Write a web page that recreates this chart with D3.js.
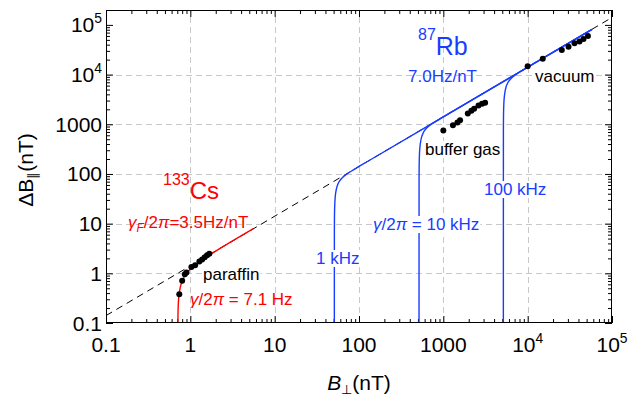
<!DOCTYPE html>
<html><head><meta charset="utf-8">
<script src="https://cdn.jsdelivr.net/npm/d3@7"></script>
<style>body{margin:0;background:#fff}svg{display:block}text{font-family:"Liberation Sans",Arial,sans-serif}</style>
</head><body><svg id="c" width="631" height="396"></svg>
<script>
// ---------- data ----------
const xTickValues = [0.1, 1, 10, 100, 1000, 1e4, 1e5];
const xTickLabels = ["0.1", "1", "10", "100", "1000", "10^4", "10^5"];
const yTickValues = [0.1, 1, 10, 100, 1000, 1e4, 1e5];
const yTickLabels = ["0.1", "1", "10", "100", "1000", "10^4", "10^5"];
const gridValues = [1, 10, 100, 1000, 1e4];

const refLine = [[0.1, 0.141], [1e5, 1.41e5]];
const csCurve = [[0.7118,0.1],[0.717,0.200],[0.731,0.344],[0.753,0.484],[0.781,0.620],[0.8165,0.753],[0.8875,0.961],[0.994,1.206],[1.207,1.597],[1.562,2.155],[2.13,2.985],[5.6,7.9]];
const rb1kCurve = [[51,0.1],[51.05,7.2],[51.15,12.4],[51.5,22.3],[52.0,31.1],[53.0,42.6],[54.6,54.0],[56.1,62.0],[58.7,71.8],[63.8,84.9],[71.4,98.9],[86.7,122],[127.5,180],[1000,1405],[10000,14050],[58000,81500]];
const rb10kCurve = [[515,0.1],[515.5,72.6],[516.5,125],[520,225],[525,314],[536,430],[551,545],[567,626],[592,725],[644,857],[721,999],[876,1231],[1288,1815],[10000,14050],[58000,81500]];
const rb100kCurve = [[5150,0.1],[5155,726],[5165,1251],[5200,2256],[5250,3141],[5360,4300],[5510,5449],[5665,6262],[5920,7246],[6440,8575],[7210,9990],[8755,12310],[12875,18150],[58000,81500]];
const csParaffin = [[0.74,0.38],[0.80,0.71],[0.86,0.96],[0.90,1.04],[1.03,1.34],[1.14,1.46],[1.28,1.72],[1.38,1.90],[1.48,2.10],[1.58,2.30],[1.68,2.48]];
const rbBufferGas = [[1000,750],[1300,960],[1470,1080],[1580,1200],[1950,1650],[2150,1880],[2320,2050],[2610,2380],[2880,2600],[3130,2710]];
const rbVacuum = [[10000,14800],[15100,20800],[25400,31100],[30500,36300],[35900,42500],[41200,46600],[45900,51800],[51800,59600]];

// ---------- layout ----------
const W = 631, H = 396;
const m = {l:106, r:19, t:10, b:73};
const X0 = m.l, X1 = W - m.r, Y0 = H - m.b, Y1 = m.t;
const RED = "#ff0000", BLUE = "#1a3cff";
const svg = d3.select("#c");
const x = d3.scaleLog().domain([0.1, 1e5]).range([X0, X1]);
const y = d3.scaleLog().domain([0.1, Math.pow(10, 5.3)]).range([Y0, Y1]);

svg.append("defs").append("clipPath").attr("id","clip").append("rect")
  .attr("x",X0).attr("y",Y1).attr("width",X1-X0).attr("height",Y0-Y1);

// grid
const grid = svg.append("g").attr("stroke","#c8c8c8").attr("stroke-dasharray","6,4").attr("stroke-width",1);
grid.selectAll(".gx").data(gridValues).join("line").attr("class","gx")
  .attr("x1",d=>Math.round(x(d))+0.5).attr("x2",d=>Math.round(x(d))+0.5).attr("y1",Y0).attr("y2",Y1);
grid.selectAll(".gy").data(gridValues).join("line").attr("class","gy")
  .attr("y1",d=>Math.round(y(d))+0.5).attr("y2",d=>Math.round(y(d))+0.5).attr("x1",X0).attr("x2",X1);

// ticks
function minors(lo, hi){ const r=[]; for(let e=-1;e<6;e++) for(let k=2;k<10;k++){const v=k*Math.pow(10,e); if(v>lo&&v<hi) r.push(v);} return r; }
const xMin = minors(0.1, 1e5), yMin = minors(0.1, Math.pow(10,5.3));
function addAxis(gen, scale, tr, major, minor){
  const g1 = svg.append("g").attr("transform",tr).call(gen(scale).tickValues(major).tickSize(-7).tickFormat(""));
  const g2 = svg.append("g").attr("transform",tr).call(gen(scale).tickValues(minor).tickSize(-4).tickFormat(""));
  [g1,g2].forEach(g=>{g.select(".domain").remove(); g.selectAll("line").attr("stroke","#000");});
}
addAxis(d3.axisBottom, x, `translate(0,${Y0})`, xTickValues, xMin);
addAxis(d3.axisTop, x, `translate(0,${Y1})`, xTickValues, xMin);
addAxis(d3.axisLeft, y, `translate(${X0},0)`, yTickValues, yMin);
addAxis(d3.axisRight, y, `translate(${X1},0)`, yTickValues, yMin);

// plot content
const plot = svg.append("g").attr("clip-path","url(#clip)");
const line = d3.line().x(d=>x(d[0])).y(d=>y(d[1])).curve(d3.curveMonotoneY);
plot.append("path").datum(refLine).attr("d", d3.line().x(d=>x(d[0])).y(d=>y(d[1])))
  .attr("fill","none").attr("stroke","#000").attr("stroke-width",1).attr("stroke-dasharray","7,5");
[rb1kCurve, rb10kCurve, rb100kCurve].forEach(c=>{
  plot.append("path").datum(c).attr("d",line).attr("fill","none").attr("stroke",BLUE).attr("stroke-width",1.4);
});
plot.append("path").datum(csCurve).attr("d",line).attr("fill","none").attr("stroke",RED).attr("stroke-width",1.4);

// frame
svg.append("rect").attr("x",X0+0.5).attr("y",Y1+0.5).attr("width",X1-X0-1).attr("height",Y0-Y1-1)
  .attr("fill","none").attr("stroke","#000").attr("stroke-width",1);

// labels
function label(px, py, parts, opt){
  const g = svg.append("g");
  const t = g.append("text").attr("x",px).attr("y",py).attr("fill",opt.color||"#000")
    .attr("font-size",opt.size).attr("text-anchor",opt.anchor||"start");
  let shift = 0;
  parts.forEach(p=>{
    if(typeof p === "string") p = {t:p};
    const sp = t.append("tspan").text(p.t);
    const target = p.dy !== undefined ? p.dy : 0;
    if(target !== shift){ sp.attr("dy", target - shift); shift = target; }
    if(p.fs) sp.attr("font-size", p.fs);
    if(p.it) sp.attr("font-style","italic");
  });
  if(opt.transform) t.attr("transform", opt.transform);
  if(opt.bg){
    const b = t.node().getBBox();
    g.insert("rect","text").attr("x",b.x-1).attr("y",b.y+1).attr("width",b.width+2).attr("height",b.height-2).attr("fill","#fff");
  }
  return t;
}
function tickParts(s, size){
  const [b,e] = s.split("^");
  return e ? [b, {t:e, fs:size*0.66, dy:-size*0.43}] : [b];
}
const TS = 21;
xTickValues.forEach((v,i)=>label(x(v), 352, tickParts(xTickLabels[i],TS), {size:TS, anchor:"middle"}));
yTickValues.forEach((v,i)=>label(102, y(v)+7.5, tickParts(yTickLabels[i],TS), {size:TS, anchor:"end"}));

// axis titles
label((X0+X1)/2, 390, [{t:"B",it:true},{t:"⊥",fs:13,dy:4},{t:"(nT)",dy:0}], {size:21, anchor:"middle"});
label(0, 0, ["ΔB",{t:"∥",fs:13,dy:4},{t:"(nT)",dy:0}], {size:21, anchor:"middle", transform:"translate(33,170) rotate(-90)"});

// annotations
label(418, 55, [{t:"87",fs:16,dy:-15.5},{t:"Rb",dy:0}], {size:25, color:BLUE});
label(408, 82, ["7.0Hz/nT"], {size:17, color:BLUE});
label(535, 82, ["vacuum"], {size:17, bg:true});
label(425, 155, ["buffer gas"], {size:17, bg:true});
label(484, 195, ["100 kHz"], {size:17, color:BLUE, bg:true});
label(373, 230, [{t:"γ",it:true},"/2",{t:"π",it:true}," = 10 kHz"], {size:17, color:BLUE, bg:true});
label(316, 264, ["1 kHz"], {size:17, color:BLUE, bg:true});
label(163, 199, [{t:"133",fs:16,dy:-14},{t:"Cs",dy:0}], {size:24, color:RED});
label(128, 228, [{t:"γ",it:true},{t:"F",it:true,fs:12,dy:4},{t:"/2",dy:0},{t:"π",it:true},"=3.5Hz/nT"], {size:17, color:RED});
label(203, 280, ["paraffin"], {size:17, bg:true});
label(190, 305, [{t:"γ",it:true},"/2",{t:"π",it:true}," = 7.1 Hz"], {size:17, color:RED});

// dots
const dots = svg.append("g").attr("fill","#000");
[csParaffin, rbBufferGas, rbVacuum].forEach(ds=>{
  dots.selectAll(null).data(ds).join("circle").attr("cx",d=>x(d[0])).attr("cy",d=>y(d[1])).attr("r",3);
});
</script></body></html>
